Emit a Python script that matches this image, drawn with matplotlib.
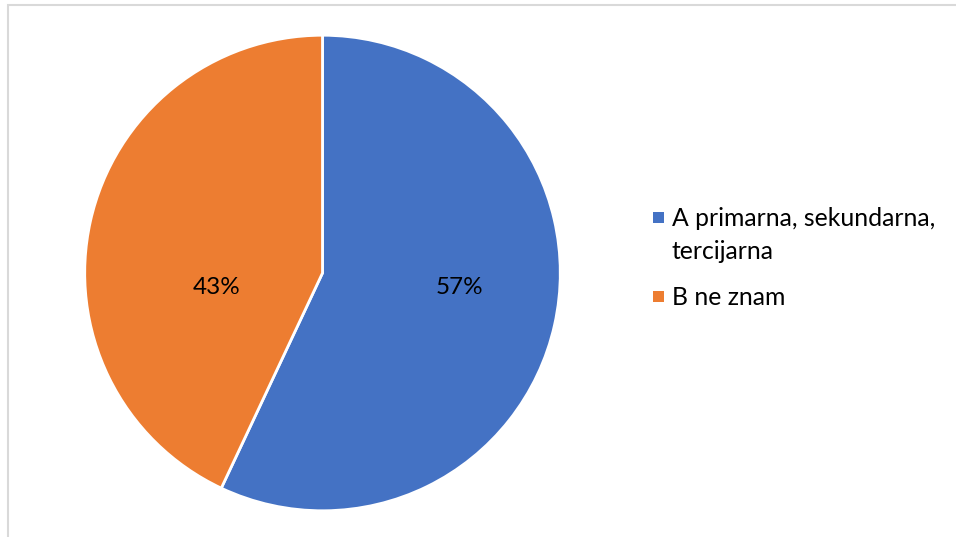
import matplotlib
matplotlib.use("Agg")
import matplotlib.pyplot as plt
from matplotlib.patches import Rectangle

labels = ["A primarna, sekundarna,\ntercijarna", "B ne znam"]
values = [57, 43]
colors = ["#4472C4", "#ED7D31"]

plt.rcParams["font.family"] = ["Lato", "DejaVu Sans"]

W, H = 956, 537
fig = plt.figure(figsize=(W / 100, H / 100), dpi=100)

# light grey chart-area border (runs off the right and bottom edges)
fig.patches.append(Rectangle((7.5 / W, -0.1), 1.2, 1 - 4.5 / H + 0.1,
                             transform=fig.transFigure, fill=False,
                             edgecolor="#D9D9D9", linewidth=1.5))

cx, cy, r = 322.5, 273, 238.5
ax = fig.add_axes([(cx - r) / W, (H - cy - r) / H, 2 * r / W, 2 * r / H])
wedges, texts, autotexts = ax.pie(
    values, colors=colors, startangle=90, counterclock=False,
    autopct="%1.0f%%", pctdistance=0.56,
    wedgeprops={"edgecolor": "white", "linewidth": 2},
    textprops={"fontsize": 17.5, "color": "#000000"})
# Excel-style label placement (both labels on one level, slightly below centre)
for t, pos in zip(autotexts, [(0.575, -0.062), (-0.445, -0.062)]):
    t.set_position(pos)
ax.set_xlim(-1.003, 1.003)
ax.set_ylim(-1.003, 1.003)
ax.axis("off")

# legend: square marker aligned with the first line of each entry
sq = 11
line_gap = 33
legend_rows = [226, 305]  # first-line baselines, px from top
for lab, col, base in zip(labels, colors, legend_rows):
    fig.patches.append(Rectangle((653 / W, (H - base + 3) / H), sq / W, sq / H,
                                 transform=fig.transFigure, facecolor=col,
                                 edgecolor="none"))
    for i, line in enumerate(lab.split("\n")):
        fig.text(672 / W, (H - base - i * line_gap) / H, line, fontsize=17.8,
                 va="baseline", ha="left", color="#000000")

fig.savefig("out.png", dpi=100)
